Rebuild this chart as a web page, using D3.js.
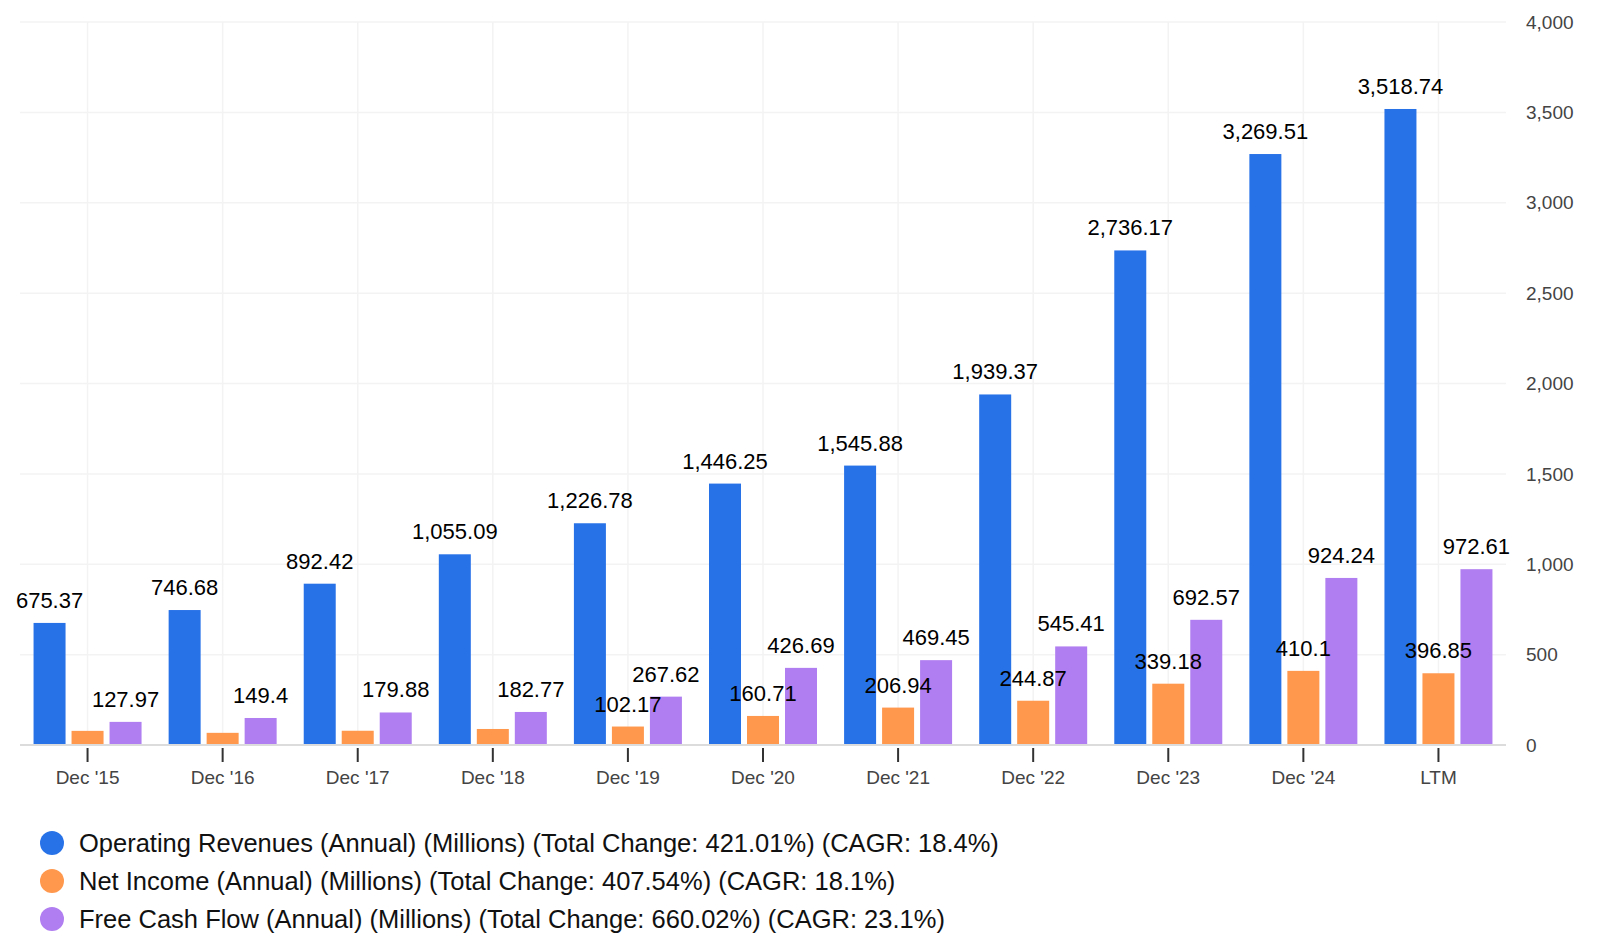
<!DOCTYPE html>
<html>
<head>
<meta charset="utf-8">
<script src="https://cdn.jsdelivr.net/npm/d3@7"></script>
<style>
  body { margin: 0; background: #fff; font-family: "Liberation Sans", Arial, Helvetica, sans-serif; }
  svg text { font-family: "Liberation Sans", Arial, Helvetica, sans-serif; }
</style>
</head>
<body>
<div id="wrapper"></div>
<script>
// data
const categories = ["Dec '15", "Dec '16", "Dec '17", "Dec '18", "Dec '19", "Dec '20", "Dec '21", "Dec '22", "Dec '23", "Dec '24", "LTM"]
const revenues = [675.37, 746.68, 892.42, 1055.09, 1226.78, 1446.25, 1545.88, 1939.37, 2736.17, 3269.51, 3518.74]
const netIncome = [78.19, 67.3, 78.8, 88.6, 102.17, 160.71, 206.94, 244.87, 339.18, 410.1, 396.85]
const freeCashFlow = [127.97, 149.4, 179.88, 182.77, 267.62, 426.69, 469.45, 545.41, 692.57, 924.24, 972.61]
// net income labels hidden where they collide in the original
const netIncomeLabelShown = [false, false, false, false, true, true, true, true, true, true, true]
const yTicks = [0, 500, 1000, 1500, 2000, 2500, 3000, 3500, 4000]
const seriesNames = [
  "Operating Revenues (Annual) (Millions) (Total Change: 421.01%) (CAGR: 18.4%)",
  "Net Income (Annual) (Millions) (Total Change: 407.54%) (CAGR: 18.1%)",
  "Free Cash Flow (Annual) (Millions) (Total Change: 660.02%) (CAGR: 23.1%)"
]
const colors = ["#2872e8", "#ff974d", "#b07ef0"]

const series = [revenues, netIncome, freeCashFlow]

// dimensions
const dimensions = {
  width: 1600,
  height: 950,
  margin: { top: 22, right: 94, bottom: 205, left: 20 }
}
dimensions.boundedWidth = dimensions.width - dimensions.margin.left - dimensions.margin.right
dimensions.boundedHeight = dimensions.height - dimensions.margin.top - dimensions.margin.bottom

const wrapper = d3.select("#wrapper")
  .append("svg")
    .attr("width", dimensions.width)
    .attr("height", dimensions.height)

const bounds = wrapper.append("g")
  .attr("transform", `translate(${dimensions.margin.left},${dimensions.margin.top})`)

// scales
const xScale = d3.scaleBand()
  .domain(categories)
  .range([0, dimensions.boundedWidth])

const barWidth = 32
const barGap = 6
const innerScale = d3.scaleBand()
  .domain([0, 1, 2])
  .range([-(barWidth * 3 + barGap * 2) / 2, (barWidth * 3 + barGap * 2) / 2])
  .paddingInner(barGap / (barWidth + barGap))

const yScale = d3.scaleLinear()
  .domain([0, 4000])
  .range([dimensions.boundedHeight, 0])

const center = d => xScale(d) + xScale.bandwidth() / 2

// grid
bounds.append("g")
  .selectAll("line")
  .data(yTicks)
  .join("line")
    .attr("x1", 0)
    .attr("x2", dimensions.boundedWidth)
    .attr("y1", d => yScale(d))
    .attr("y2", d => yScale(d))
    .attr("stroke", "#f3f3f3")
    .attr("stroke-width", 1.5)

bounds.append("g")
  .selectAll("line")
  .data(categories)
  .join("line")
    .attr("x1", d => center(d))
    .attr("x2", d => center(d))
    .attr("y1", 0)
    .attr("y2", dimensions.boundedHeight)
    .attr("stroke", "#f3f3f3")
    .attr("stroke-width", 1.5)

// bars
series.forEach((values, si) => {
  bounds.append("g")
    .selectAll("rect")
    .data(values)
    .join("rect")
      .attr("x", (d, i) => center(categories[i]) + innerScale(si))
      .attr("y", d => yScale(d))
      .attr("width", innerScale.bandwidth())
      .attr("height", d => dimensions.boundedHeight - yScale(d))
      .attr("fill", colors[si])
})

// x axis
const xAxis = bounds.append("g")
  .attr("transform", `translate(0,${dimensions.boundedHeight})`)

xAxis.append("line")
  .attr("x1", 0)
  .attr("x2", dimensions.boundedWidth)
  .attr("stroke", "#dcdcdc")
  .attr("stroke-width", 2)

xAxis.selectAll(".tick")
  .data(categories)
  .join("line")
    .attr("x1", d => center(d))
    .attr("x2", d => center(d))
    .attr("y1", 3)
    .attr("y2", 17)
    .attr("stroke", "#333")
    .attr("stroke-width", 2)

xAxis.selectAll(".label")
  .data(categories)
  .join("text")
    .attr("x", d => center(d))
    .attr("y", 39)
    .attr("text-anchor", "middle")
    .attr("font-size", 19)
    .attr("fill", "#444")
    .text(d => d)

// y axis on the right
bounds.append("g")
  .selectAll("text")
  .data(yTicks)
  .join("text")
    .attr("x", dimensions.boundedWidth + 20)
    .attr("y", d => yScale(d))
    .attr("dy", "0.35em")
    .attr("font-size", 19)
    .attr("fill", "#444")
    .text(d => d3.format(",")(d))

// value labels (purple, then orange, then blue on top)
const fmt = v => d3.format(",")(v)
const labelOrder = [2, 1, 0]
labelOrder.forEach(si => {
  const labelData = series[si]
    .map((v, i) => ({ v, i }))
    .filter(d => si !== 1 || netIncomeLabelShown[d.i])
  bounds.append("g")
    .selectAll("text")
    .data(labelData)
    .join("text")
      .attr("x", d => center(categories[d.i]) + innerScale(si) + innerScale.bandwidth() / 2)
      .attr("y", d => yScale(d.v) - 15)
      .attr("text-anchor", "middle")
      .attr("font-size", 22)
      .attr("fill", "#000")
      .text(d => fmt(d.v))
})

// legend
const legend = wrapper.append("g")
  .attr("transform", "translate(52,843)")

const legendItems = legend.selectAll("g")
  .data(seriesNames)
  .join("g")
    .attr("transform", (d, i) => `translate(0,${i * 38})`)

legendItems.append("circle")
  .attr("r", 12)
  .attr("fill", (d, i) => colors[i])

legendItems.append("text")
  .attr("x", 27)
  .attr("dy", "0.35em")
  .attr("font-size", 25.5)
  .attr("fill", "#111")
  .text(d => d)
</script>
</body>
</html>
